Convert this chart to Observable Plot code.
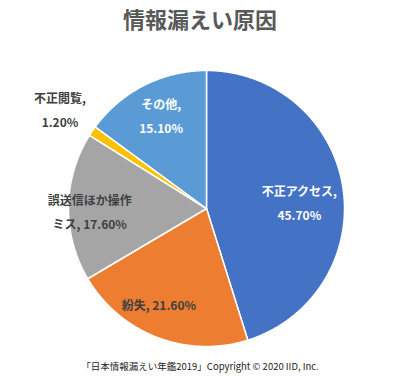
<!DOCTYPE html>
<html><head><meta charset="utf-8">
<script src="https://cdn.jsdelivr.net/npm/d3@7"></script>
<script src="https://cdn.jsdelivr.net/npm/@observablehq/plot@0.6"></script>
<style>
body{margin:0;background:#fff;font-family:"Noto Sans CJK JP","Noto Sans",sans-serif;}
#wrap{width:400px;}
#title{height:40px;line-height:36px;text-align:center;font-size:22px;font-weight:bold;color:#595959;}
#cap{text-align:center;font-size:9.5px;color:#222;line-height:14px;margin-top:7px;}
svg{display:block;}
</style></head>
<body><div id="wrap">
<div id="title">情報漏えい原因</div>
<div id="chart"></div>
<div id="cap">「日本情報漏えい年鑑2019」Copyright © 2020 IID, Inc.</div>
</div>
<script>
const categories = ["不正アクセス", "紛失", "誤送信ほか操作ミス", "不正閲覧", "その他"];
const values = [45.7, 21.6, 17.6, 1.2, 15.1];
const labels = ["不正アクセス,\n45.70%", "紛失, 21.60%", "誤送信ほか操作\nミス, 17.60%", "不正閲覧,\n1.20%", "その他,\n15.10%"];
const colors = ["#4472C4", "#ED7D31", "#A5A5A5", "#FFC000", "#5B9BD5"];

const W = 400, H = 312, R = 138, cx = 206, cy = 168;
const arcs = d3.pie().sort(null).value(d => d)(values);
const pts = [];
arcs.forEach((a, i) => {
  const n = Math.max(2, Math.ceil((a.endAngle - a.startAngle) / 0.01));
  pts.push({k: categories[i], x: 0, y: 0});
  for (let j = 0; j <= n; j++) {
    const t = a.startAngle + (a.endAngle - a.startAngle) * j / n;
    pts.push({k: categories[i], x: Math.sin(t), y: Math.cos(t)});
  }
  pts.push({k: categories[i], x: 0, y: 0});
});
const lab = arcs.map((a, i) => {
  const m = (a.startAngle + a.endAngle) / 2;
  return {k: categories[i], text: labels[i], x: 0.6 * Math.sin(m), y: 0.6 * Math.cos(m)};
});
const offs = [[11, 4, "#fff"], [-18, 17, "#404040"], [-34, 2, "#404040"], [-78, -55, "#404040"], [-8, -21, "#fff"]];
const textMarks = lab.map((d, i) => Plot.text([d], {
  x: "x", y: "y", text: "text", dx: offs[i][0], dy: offs[i][1], fill: offs[i][2],
  fontSize: 12, fontWeight: "bold", lineHeight: 2, fontFamily: "Noto Sans CJK JP"
}));

const chart = Plot.plot({
  width: W, height: H, margin: 0,
  x: {domain: [-cx / R, (W - cx) / R], axis: null},
  y: {domain: [-(H - cy) / R, cy / R], axis: null},
  color: {domain: categories, range: colors},
  marks: [
    Plot.line(pts, {x: "x", y: "y", z: "k", fill: "k", stroke: "#fff", strokeWidth: 1.5, strokeLinejoin: "round"}),
    ...textMarks
  ]
});
document.getElementById("chart").append(chart);
</script>
</body></html>
